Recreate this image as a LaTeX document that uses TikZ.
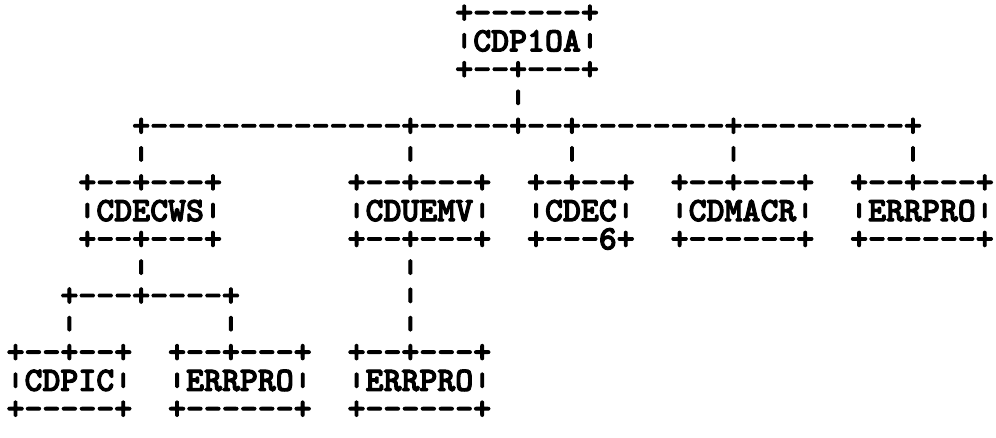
\documentclass[tikz,border=0pt]{standalone}
\usepackage{graphicx}
\usepackage{fontspec}
\usetikzlibrary{matrix}

\newfontfamily\listfont{lmmonolt10-bold.otf}[FakeBold=3]

% short bar and blank columns for the listing
\newcommand{\vb}{\raisebox{0.09em}{\resizebox*{\width}{0.44em}{\raisebox{\depth}{|}}}}
\newcommand{\gap}[1]{\kern#1\fontdimen2\font\relax}

\begin{document}
\begin{tikzpicture}[x=0.351pt,y=0.351pt]
  \useasboundingbox (0,0) rectangle (996,-438);
  \matrix (chart) [matrix of nodes, anchor=north west, inner sep=0pt, row sep=0.93pt,
    nodes={anchor=base west, inner sep=0pt, text height=6.5pt, text depth=2.5pt,
      font=\listfont\fontsize{12}{12}\selectfont}] at (6,-4) {
    \gap{25}+------+ \\
    \gap{25}\vb CDP1OA\vb \\
    \gap{25}+--+---+ \\
    \gap{28}\vb \\
    \gap{7}+--------------+-----+--+--------+---------+ \\
    \gap{7}\vb\gap{14}\vb\gap{8}\vb\gap{8}\vb\gap{9}\vb \\
    \gap{4}+--+---+\gap{7}+--+---+\gap{2}+-+--+\gap{2}+--+---+\gap{2}+--+---+ \\
    \gap{4}\vb CDECWS\vb\gap{7}\vb CDUEMV\vb\gap{2}\vb CDEC\vb\gap{2}\vb CDMACR\vb\gap{2}\vb ERRPRO\vb \\
    \gap{4}+--+---+\gap{7}+--+---+\gap{2}+---6+\gap{2}+------+\gap{2}+------+ \\
    \gap{7}\vb\gap{14}\vb \\
    \gap{3}+---+----+\gap{9}\vb \\
    \gap{3}\vb\gap{8}\vb\gap{9}\vb \\
    +--+--+\gap{2}+--+---+\gap{2}+--+---+ \\
    \vb CDPIC\vb\gap{2}\vb ERRPRO\vb\gap{2}\vb ERRPRO\vb \\
    +-----+\gap{2}+------+\gap{2}+------+ \\
  };
\end{tikzpicture}
\end{document}
